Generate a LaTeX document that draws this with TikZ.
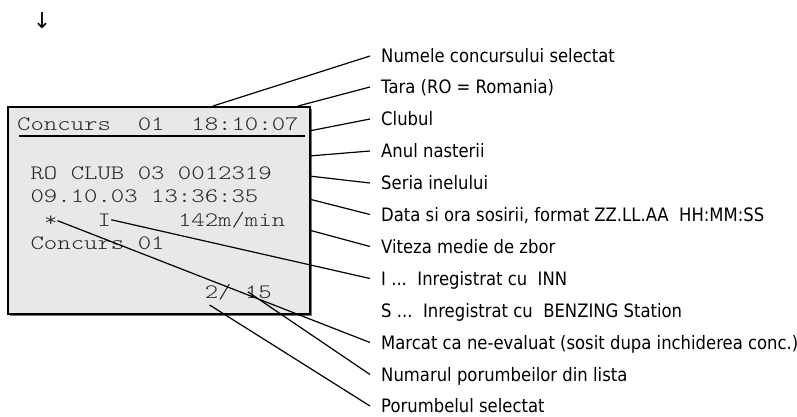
\documentclass[tikz,border=0pt]{standalone}
\usepackage{fontspec}
\newfontfamily\lblfont[FakeStretch=0.889]{DejaVu Sans}
\newfontfamily\arrfont{DejaVu Sans}
\newfontfamily\lcdfont[FakeStretch=1.245]{lmmonolt10-regular.otf}
\usetikzlibrary{calc}
\tikzset{
  lbl/.style={anchor=west, inner xsep=11pt, inner ysep=0pt,
    font=\lblfont\fontsize{18.5}{20}\selectfont, text height=13.4pt, text depth=0pt},
  lcdtxt/.style={anchor=base west, inner sep=0pt,
    font=\lcdfont\fontsize{20.5}{22}\selectfont, text=black!85},
  lead/.style={line width=1.2pt, black},
}
\begin{document}
\begin{tikzpicture}[x=1pt,y=-1pt]
\useasboundingbox (0,0) rectangle (797,416);
% arrow glyph
\node[font=\arrfont\fontsize{22}{24}\selectfont, inner sep=0pt] (arr) at (42,21) {↓};
% display box with shadow
\fill[black!55] (9.5,108.5) rectangle (311.5,315.5);
\node[draw, line width=1.5pt, fill=black!9, anchor=north west, inner sep=0pt,
      minimum width=302pt, minimum height=207pt] (lcd) at (7,106) {};
% texts in display
\node[lcdtxt] (hdr) at (17,130) {Concurs~~01~~18:10:07};
\draw[line width=1.2pt] (19,136) -- (305,136);
\node[lcdtxt] (r1) at (17,179) {~RO~CLUB~03~0012319};
\node[lcdtxt] (r2) at (17,202) {~09.10.03~13:36:35};
\node[lcdtxt] (star) at (43.8,226) {*};
\node[lcdtxt] (nI) at (97.4,226) {I};
\node[lcdtxt] (spd) at (177.8,226) {142m/min};
\node[lcdtxt] (r4) at (17,249) {~Concurs~01};
\node[lcdtxt] (n2) at (204.6,298) {2/};
\node[lcdtxt] (n15) at (244.8,298) {15};
% labels
\node[lbl] (l1) at (370,56) {Numele concursului selectat};
\node[lbl] (l2) at (370,87) {Tara (RO = Romania)};
\node[lbl] (l3) at (370,119) {Clubul};
\node[lbl] (l4) at (370,151) {Anul nasterii};
\node[lbl] (l5) at (370,183) {Seria inelului};
\node[lbl] (l6) at (370,214.5) {Data si ora sosirii, format ZZ.LL.AA\ \ HH:MM:SS};
\node[lbl] (l7) at (370,246.5) {Viteza medie de zbor};
\node[lbl] (l8) at (370,278.5) {I ...\ \ Inregistrat cu\ \ INN};
\node[lbl] (l9) at (370,310.5) {S ...\ \ Inregistrat cu\ \ BENZING Station};
\node[lbl] (l10) at (370,342.5) {Marcat ca ne-evaluat (sosit dupa inchiderea conc.)};
\node[lbl] (l11) at (370,374.5) {Numarul porumbeilor din lista};
\node[lbl] (l12) at (370,406) {Porumbelul selectat};
% start points on the display
\coordinate (p1) at (213,106);
\coordinate (p2) at (298,106);
\coordinate (p3) at (309,131);
\coordinate (p4) at (309,156);
\coordinate (p5) at (309,176);
\coordinate (p6) at (309,199);
\coordinate (p7) at (309,230);
\coordinate (p12) at ($(n2.base west)+(5,7)$);
% leaders
\draw[lead] (p1) -- (l1.west);
\draw[lead] (p2) -- (l2.west);
\draw[lead] (p3) -- (l3.west);
\draw[lead] (p4) -- (l4.west);
\draw[lead] (p5) -- (l5.west);
\draw[lead] (p6) -- (l6.west);
\draw[lead] (p7) -- (l7.west);
\draw[lead] (nI.east) -- (l8.west);
\draw[lead] (star.east) -- (l10.west);
\draw[lead] ([xshift=3pt]n15.west) -- (l11.west);
\draw[lead] (p12) -- (l12.west);
\end{tikzpicture}
\end{document}
